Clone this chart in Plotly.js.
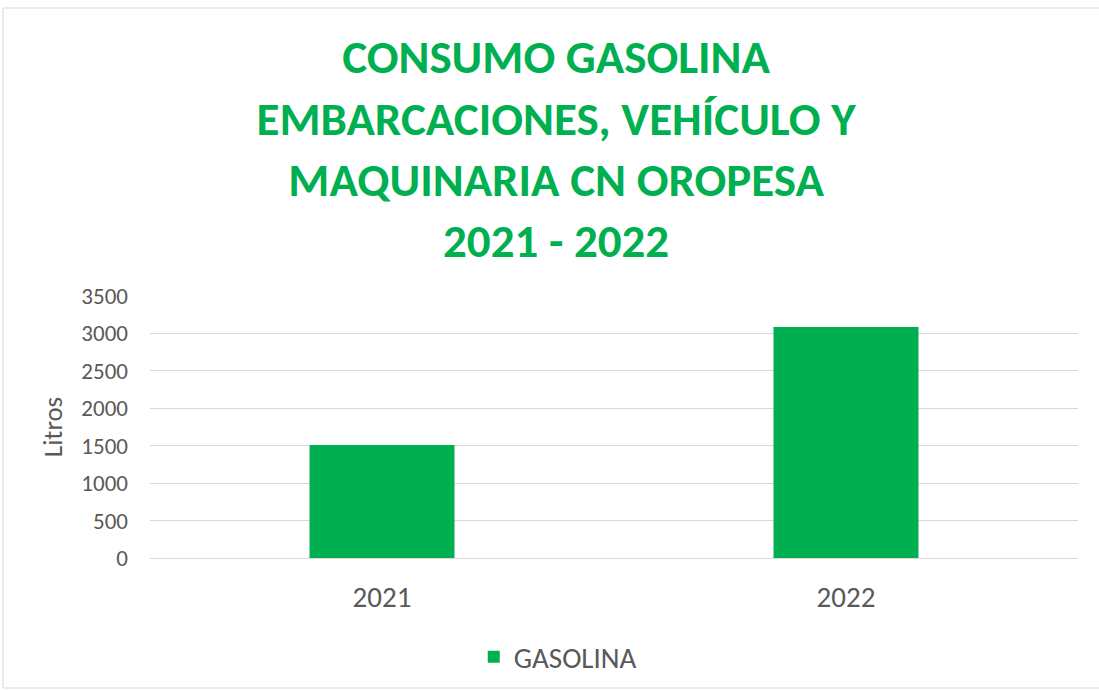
<!DOCTYPE html>
<html>
<head>
<meta charset="utf-8">
<script src="https://cdn.plot.ly/plotly-3.0.1.min.js"></script>
<style>
html,body{margin:0;padding:0;background:#fff;}
#chart{width:1099px;height:690px;}
</style>
</head>
<body>
<div id="chart"></div>
<script>
const categories = ['2021', '2022'];
const gasolina = [1510, 3085];
const seriesName = 'GASOLINA';
const yTicks = [0, 500, 1000, 1500, 2000, 2500, 3000, 3500];

const green = '#00B050';
const gray = '#595959';
const font = 'Carlito, Lato, "Liberation Sans", sans-serif';

const trace = {
  type: 'bar',
  x: categories,
  y: gasolina,
  name: seriesName,
  marker: {color: green},
  width: 0.3125,
  showlegend: true,
  hoverinfo: 'x+y'
};

const layout = {
  width: 1099,
  height: 690,
  paper_bgcolor: '#fff',
  plot_bgcolor: '#fff',
  margin: {l: 150, r: 21, t: 296, b: 132},
  title: {
    text: 'CONSUMO GASOLINA<br>EMBARCACIONES, VEHÍCULO Y<br>MAQUINARIA CN OROPESA<br>2021 - 2022',
    font: {family: font, size: 47, color: green, weight: 'bold'},
    x: 0.506, xanchor: 'center',
    y: 0.8935, yanchor: 'middle',
    yref: 'container'
  },
  xaxis: {
    type: 'category',
    range: [-0.5, 1.5],
    showgrid: false,
    showline: true,
    linecolor: '#d9d9d9',
    linewidth: 1,
    ticks: '',
    tickfont: {family: font, size: 29, color: gray},
    ticklabelstandoff: 13
  },
  yaxis: {
    range: [0, 3500],
    tickvals: yTicks,
    showgrid: true,
    gridcolor: '#d9d9d9',
    gridwidth: 1,
    zeroline: false,
    showline: false,
    ticks: '',
    tickfont: {family: font, size: 23, color: gray},
    ticklabelstandoff: 21,
    title: {text: 'Litros', font: {family: font, size: 27, color: gray}, standoff: 10}
  },
  legend: {
    orientation: 'h',
    x: 0.5075, xref: 'container', xanchor: 'center',
    y: 1 - 657/690, yref: 'container', yanchor: 'middle',
    font: {family: font, size: 29, color: gray},
    itemwidth: 20
  },
  shapes: [{
    type: 'rect', xref: 'paper', yref: 'paper',
    x0: -147/928, x1: (1099-150+5)/928, y0: -130/262, y1: 1 + (296-8)/262,
    line: {color: '#d9d9d9', width: 1}, fillcolor: 'rgba(0,0,0,0)', layer: 'below'
  }]
};

Plotly.newPlot('chart', [trace], layout, {displayModeBar: false, staticPlot: true});
</script>
</body>
</html>
